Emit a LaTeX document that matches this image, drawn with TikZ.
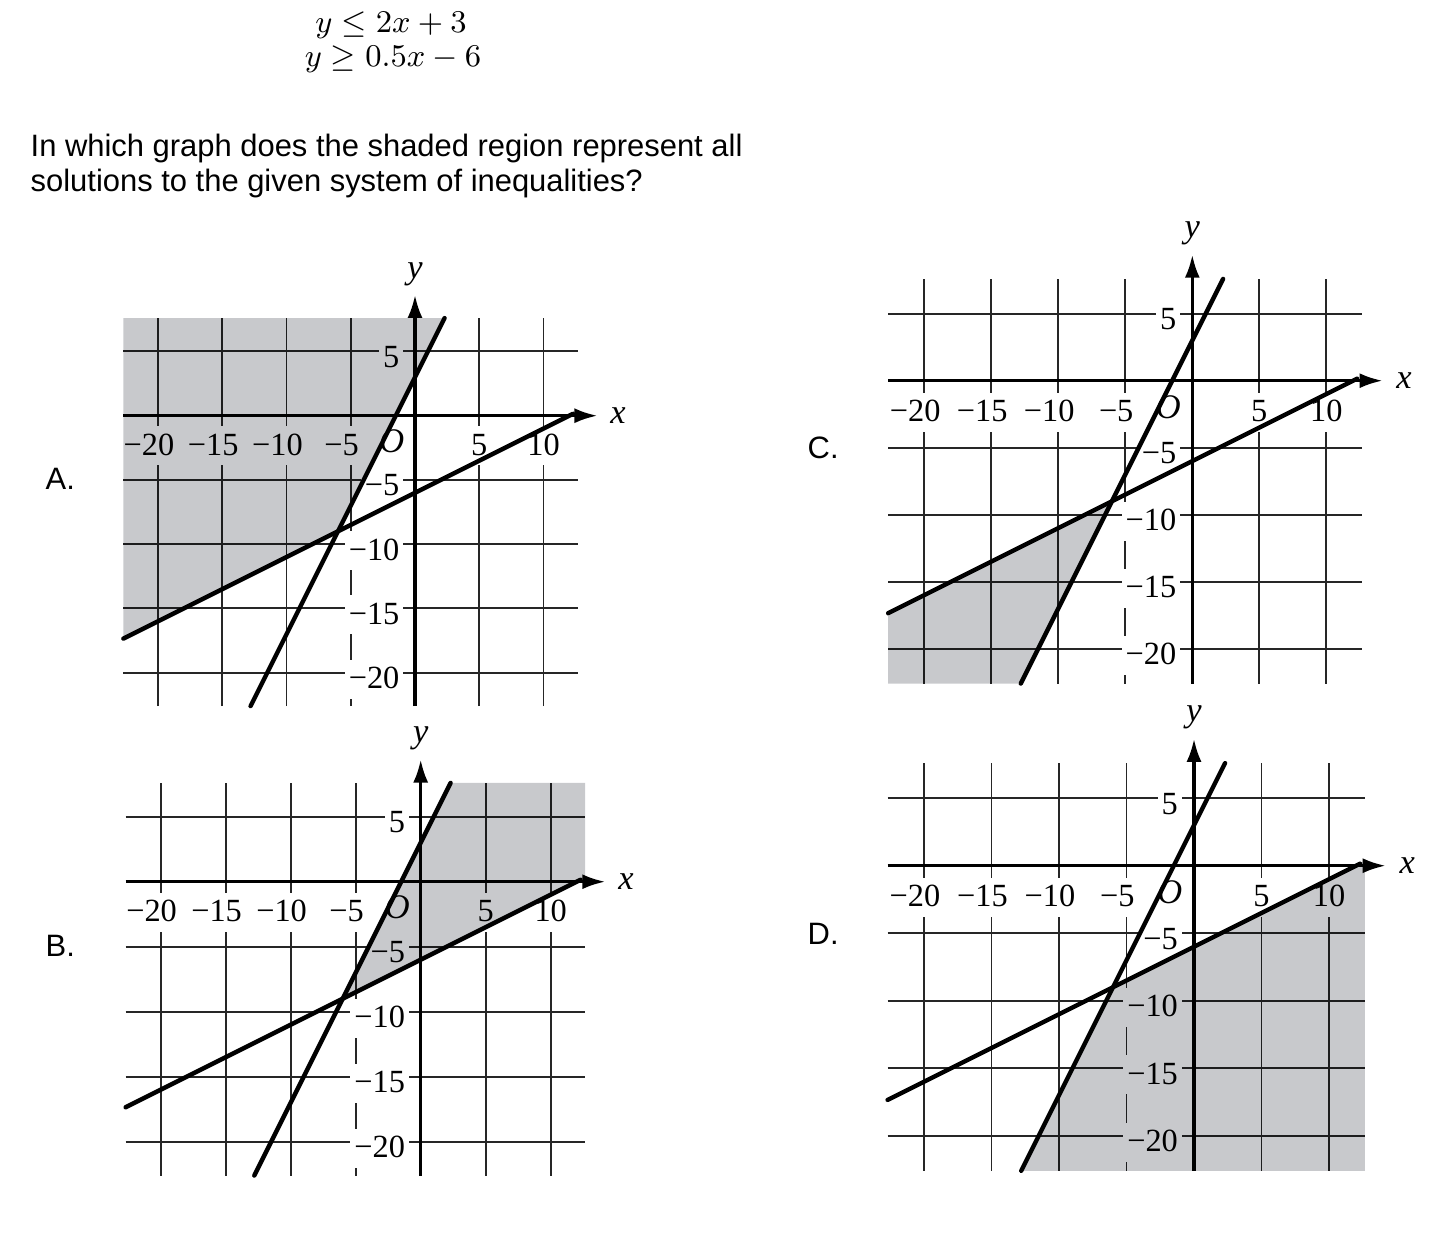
\documentclass[tikz,border=0pt]{standalone}
\usepackage{fontspec}
\setmainfont{Liberation Serif}
\newfontfamily\qfont{Liberation Sans}
\usetikzlibrary{arrows.meta}
\definecolor{regiongray}{RGB}{200,201,204}
\tikzset{
  gridline/.style={line width=0.55pt, black!85},
  axisline/.style={line width=0.9pt, -{Latex[length=2.3mm,width=1.5mm]}},
  graphline/.style={line width=1.25pt, line cap=round},
  region/.style={fill=regiongray},
  ticklabel/.style={font=\fontsize{9.2}{11}\selectfont, fill=white, inner xsep=0.04cm,
    inner ysep=0.08cm, text height=0.21cm, text depth=0.02cm},
  varlabel/.style={font=\fontsize{9.8}{11}\selectfont\itshape, inner sep=0pt},
  panellabel/.style={font=\qfont\fontsize{8.8}{10}\selectfont, anchor=west, inner sep=0pt},
  question/.style={font=\qfont\fontsize{8.8}{10}\selectfont, anchor=base west, inner sep=0pt},
}
% one coordinate plane: #1 name, #2 origin, #3 unit, #4 shaded region
\newcommand{\graphpanel}[4]{%
  \begin{scope}[shift={#2}, x=#3, y=#3]
    \coordinate (#1-steeplow) at (-12.8,-22.6);
    \coordinate (#1-steephigh) at (2.3,7.6);
    \coordinate (#1-flatlow) at (-22.7,-17.35);
    \coordinate (#1-flathigh) at (12.3,0.15);
    \coordinate (#1-int) at (-6,-9);
    % Grid
    \foreach \gk in {-20,-15,-10,-5,5,10}
      \draw[gridline] (\gk,-22.6) -- (\gk,7.6);
    \foreach \gk in {-20,-15,-10,-5,5}
      \draw[gridline] (-22.7,\gk) -- (12.65,\gk);
    % Tick labels
    \foreach \tk in {20,15,10,5}
      \node[ticklabel] (#1-xm\tk) at (-\tk,-2.35) {\llap{−}\tk};
    \foreach \tk in {5,10}
      \node[ticklabel] (#1-xp\tk) at (\tk,-2.35) {\tk};
    \node[ticklabel, anchor=east] (#1-yp5) at (-0.85,4.5) {5};
    \foreach \tk in {5,10,15,20}
      \node[ticklabel, anchor=east] (#1-ym\tk) at (-0.85,-\tk-0.5) {−\tk};
    \node[varlabel] (#1-O) at (-1.8,-1.95) {O};
    % Axes
    \coordinate (#1-xstart) at (-22.7,0);
    \coordinate (#1-xend) at (14.2,0);
    \coordinate (#1-ystart) at (0,-22.6);
    \coordinate (#1-yend) at (0,9.4);
    \draw[axisline] (#1-xstart) -- (#1-xend);
    \draw[axisline] (#1-ystart) -- (#1-yend);
    \node[varlabel] (#1-xlab) at (15.8,0) {x};
    \node[varlabel] (#1-ylab) at (0,11) {y};
    % Shaded region
    \begin{scope}[blend mode=multiply]
      \fill[region] #4;
    \end{scope}
    % Boundary lines
    \draw[graphline] (#1-steeplow) -- (#1-steephigh);
    \draw[graphline] (#1-flatlow) -- (#1-flathigh);
  \end{scope}}

\begin{document}
\begin{tikzpicture}
  \useasboundingbox (0,0) rectangle (14.5,-12.44);
  % System of inequalities
  \node[anchor=base, inner sep=0pt, font=\fontsize{8.6}{10}\selectfont] (ineq1) at (3.91,-0.323) {$y \leq 2x + 3$};
  \node[anchor=base, inner sep=0pt, font=\fontsize{8.6}{10}\selectfont] (ineq2) at (3.93,-0.667) {$y \geq 0.5x - 6$};
  % Question
  \node[question] (q1) at (0.30,-1.567) {In which graph does the shaded region represent all};
  \node[question] (q2) at (0.30,-1.917) {solutions to the given system of inequalities?};
  % Choice letters
  \node[panellabel] (labA) at (0.45,-4.79) {A.};
  \node[panellabel] (labB) at (0.45,-9.46) {B.};
  \node[panellabel] (labC) at (8.07,-4.475) {C.};
  \node[panellabel] (labD) at (8.07,-9.34) {D.};
  % Graphs
  \graphpanel{A}{(4.15,-4.157)}{0.1285cm}{(-22.7,7.6) -- (A-steephigh) -- (A-int) -- (A-flatlow) -- cycle}
  \graphpanel{B}{(4.207,-8.817)}{0.130cm}{(B-steephigh) -- (12.65,7.6) -- (12.65,0.33) -- (B-int) -- cycle}
  \graphpanel{C}{(11.923,-3.807)}{0.134cm}{(C-flatlow) -- (C-int) -- (C-steeplow) -- (-22.7,-22.6) -- cycle}
  \graphpanel{D}{(11.94,-8.657)}{0.135cm}{(D-int) -- (12.65,0.33) -- (12.65,-22.6) -- (D-steeplow) -- cycle}
\end{tikzpicture}
\end{document}
